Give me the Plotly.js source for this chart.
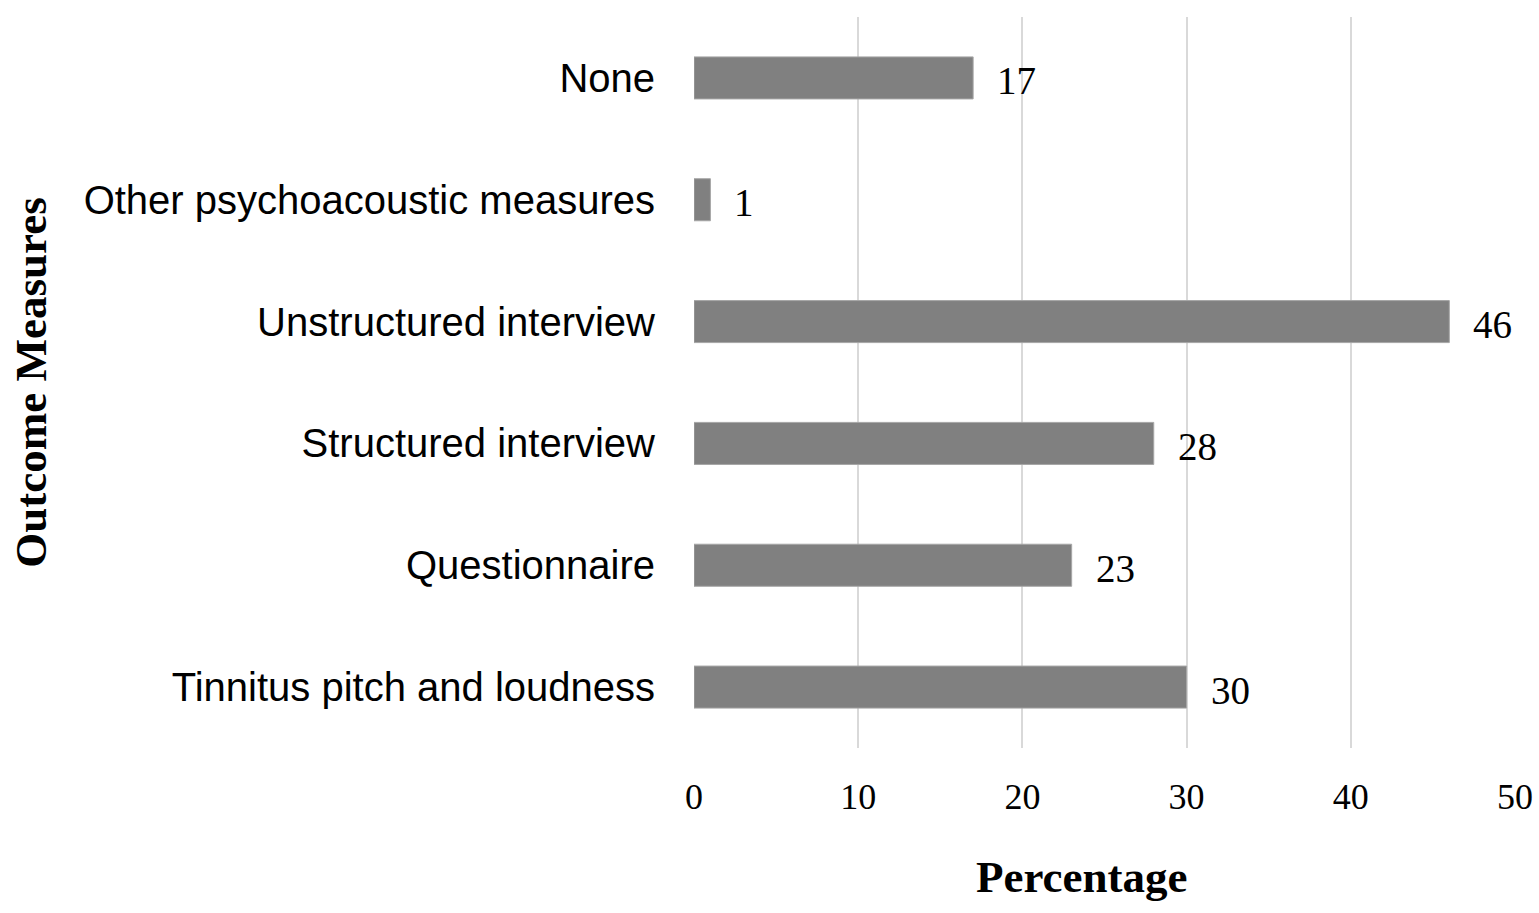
<!DOCTYPE html>
<html><head><meta charset="utf-8">
<script src="https://cdn.plot.ly/plotly-3.0.1.min.js"></script>
<style>html,body{margin:0;padding:0;background:#fff}#chart{width:1539px;height:913px}</style>
</head><body><div id="chart"></div>
<script>
const categories = ["Tinnitus pitch and loudness","Questionnaire","Structured interview","Unstructured interview","Other psychoacoustic measures","None"];
const values = [30, 23, 28, 46, 1, 17];
const xTicks = [0, 10, 20, 30, 40, 50];

const serif = "Liberation Serif, Times New Roman, serif";
const sans = "Liberation Sans, Arial, sans-serif";

const trace = {
  type: "bar", orientation: "h",
  x: values, y: categories,
  marker: {color: "#808080", line: {color: "#a6a6a6", width: 1}},
  hoverinfo: "x+y"
};

const annotations = values.map((v, i) => ({
  x: v, y: categories[i], xref: "x", yref: "y",
  text: String(v), showarrow: false, xanchor: "left", xshift: 22, yshift: -3,
  font: {family: serif, size: 39, color: "#000"}
}));
annotations.push({
  x: 1082, xref: "paper", y: 877, yref: "paper",
  text: "<b>Percentage</b>", showarrow: false, xanchor: "center", yanchor: "middle",
  font: {family: serif, size: 45, color: "#000"}
});

const layout = {
  width: 1539, height: 913,
  margin: {l: 694, r: 24, t: 17, b: 165},
  paper_bgcolor: "#fff", plot_bgcolor: "#fff",
  bargap: 0.655,
  showlegend: false,
  xaxis: {
    range: [0, 50], tickvals: xTicks, ticktext: xTicks.map(String),
    showgrid: true, gridcolor: "#d9d9d9", gridwidth: 2,
    zeroline: false, showline: false,
    ticks: "outside", ticklen: 17, tickcolor: "rgba(0,0,0,0)",
    tickfont: {family: serif, size: 36, color: "#000"}
  },
  yaxis: {
    categoryorder: "array", categoryarray: categories,
    showgrid: false, zeroline: false, showline: false,
    ticks: "outside", ticklen: 30, tickcolor: "rgba(0,0,0,0)",
    tickfont: {family: sans, size: 40, color: "#000"},
    title: {text: "<b>Outcome Measures</b>", font: {family: serif, size: 45, color: "#000"}, standoff: 22}
  },
  annotations: annotations
};
// convert pixel placement of the x title into paper coords
const pw = layout.width - layout.margin.l - layout.margin.r;
const ph = layout.height - layout.margin.t - layout.margin.b;
const xa = annotations[annotations.length - 1];
xa.x = (xa.x - layout.margin.l) / pw;
xa.y = (layout.height - layout.margin.b - xa.y) / ph;
Plotly.newPlot("chart", [trace], layout, {displayModeBar: false, staticPlot: true});
</script></body></html>
